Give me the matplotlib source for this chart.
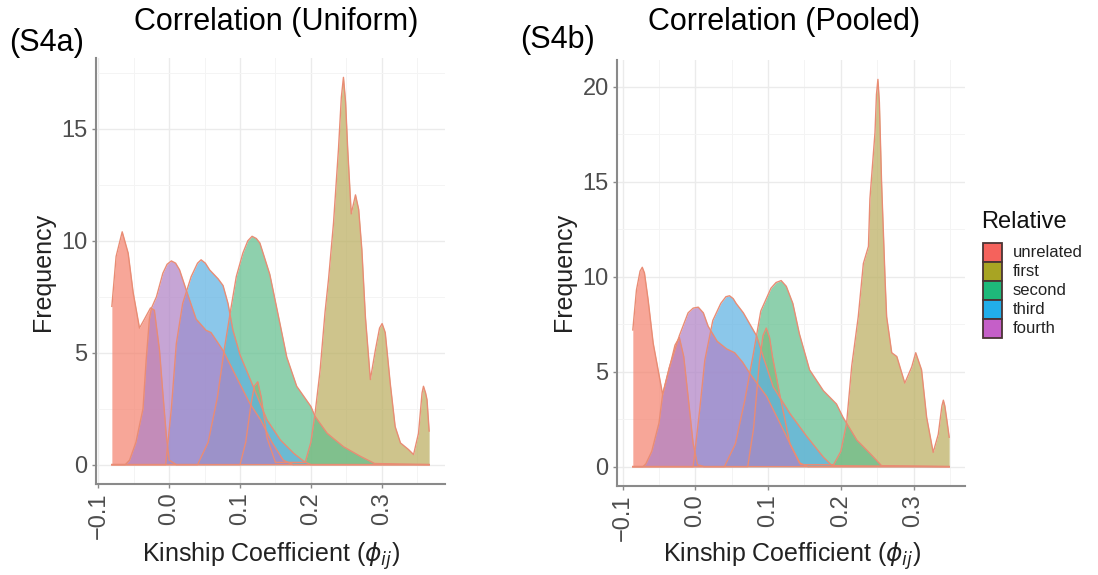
import matplotlib
matplotlib.use("Agg")
import matplotlib.pyplot as plt
from matplotlib.ticker import MultipleLocator
from matplotlib.patches import Rectangle

plt.rcParams['font.family'] = ['Liberation Sans', 'DejaVu Sans']
plt.rcParams['mathtext.fontset'] = 'dejavusans'

# ---------------- data ----------------
relatives = ["unrelated", "first", "second", "third", "fourth"]

# Panel (S4a) Correlation (Uniform)
unrelated_a_x = [-0.081, -0.075, -0.0664, -0.058, -0.051, -0.042, -0.035, -0.0264, -0.021, -0.0137, -0.009, -0.004, 0.0, 0.01, 0.367]
unrelated_a_y = [7.07, 9.3, 10.4, 9.45, 7.7, 6.1, 6.5, 7.0, 6.9, 5.1, 3.2, 1.26, 0.2, 0.0, 0.0]

first_a_x = [-0.081, 0.1, 0.108, 0.115, 0.12, 0.125, 0.13, 0.138, 0.15, 0.192, 0.2, 0.206, 0.213, 0.22, 0.225, 0.232,
             0.239, 0.243, 0.246, 0.249, 0.252, 0.257, 0.263, 0.2675, 0.272, 0.277, 0.284, 0.291, 0.297, 0.3006, 0.305, 0.312,
             0.319, 0.3265, 0.338, 0.345, 0.352, 0.357, 0.359, 0.362, 0.364, 0.367]
first_a_y = [0, 0, 1.0, 2.6, 3.5, 3.7, 3.0, 1.2, 0.1, 0.1, 1.0, 2.3, 4.2, 6.8, 8.3, 10.8,
             14.1, 16.4, 17.3, 16.2, 14.1, 11.2, 12.05, 11.4, 9.6, 6.6, 3.8, 5.1, 6.1, 6.3, 5.9, 3.65,
             1.7, 0.97, 0.67, 0.45, 1.4, 3.2, 3.5, 3.2, 2.9, 1.5]

second_a_x = [-0.081, 0.04, 0.055, 0.068, 0.078, 0.0876, 0.0947, 0.104, 0.111, 0.117, 0.123, 0.128, 0.142, 0.157, 0.166,
              0.18, 0.2, 0.206, 0.223, 0.246, 0.27, 0.29, 0.367]
second_a_y = [0, 0, 1.0, 3.0, 5.2, 7.07, 8.4, 9.45, 10.0, 10.2, 10.1, 9.9, 8.5, 6.2, 4.8,
              3.5, 2.6, 2.15, 1.4, 0.8, 0.37, 0.05, 0]

third_a_x = [-0.081, -0.005, 0.003, 0.01, 0.019, 0.031, 0.04, 0.045, 0.051, 0.057, 0.069, 0.076, 0.083, 0.09, 0.1,
             0.1145, 0.138, 0.157, 0.176, 0.19, 0.2, 0.367]
third_a_y = [0, 0, 2.5, 5.4, 7.2, 8.4, 9.0, 9.15, 9.0, 8.7, 8.3, 8.0, 7.2, 6.0, 4.9,
             3.8, 2.0, 1.1, 0.5, 0.15, 0, 0]

fourth_a_x = [-0.081, -0.062, -0.056, -0.047, -0.037, -0.0325, -0.028, -0.025, -0.018, -0.009, -0.003, 0.003, 0.009, 0.0146,
              0.024, 0.038, 0.052, 0.059, 0.076, 0.095, 0.1135, 0.129, 0.145, 0.161, 0.175, 0.367]
fourth_a_y = [0, 0, 0.2, 1.0, 2.5, 4.7, 6.5, 7.0, 7.5, 8.55, 8.95, 9.1, 9.0, 8.7,
              7.8, 6.5, 6.0, 5.9, 5.1, 3.9, 2.75, 2.0, 1.0, 0.2, 0, 0]

# Panel (S4b) Correlation (Pooled)
unrelated_b_x = [-0.086, -0.081, -0.076, -0.073, -0.07, -0.065, -0.058, -0.045, -0.035, -0.028, -0.022, -0.016, -0.01, -0.003, 0.003, 0.012, 0.349]
unrelated_b_y = [7.2, 9.3, 10.3, 10.5, 10.2, 8.8, 6.5, 3.8, 5.3, 6.4, 6.8, 5.8, 3.7, 1.2, 0.1, 0, 0]

first_b_x = [-0.086, 0.072, 0.08, 0.088, 0.093, 0.0975, 0.102, 0.106, 0.116, 0.13, 0.145, 0.19, 0.2, 0.208, 0.215, 0.224,
             0.231, 0.238, 0.24, 0.247, 0.249, 0.251, 0.253, 0.256, 0.261, 0.263, 0.27, 0.277, 0.288, 0.2975, 0.303,
             0.311, 0.318, 0.327, 0.334, 0.339, 0.341, 0.343, 0.346, 0.349]
first_b_y = [0, 0, 2.0, 5.5, 6.9, 7.3, 6.8, 5.8, 3.8, 1.2, 0.1, 0.1, 0.8, 2.3, 5.3, 7.9,
             10.7, 11.6, 14.1, 17.6, 19.6, 20.4, 19.2, 15.0, 9.7, 7.9, 6.0, 5.8, 4.4, 5.25, 6.0,
             5.1, 2.6, 0.75, 1.7, 3.2, 3.5, 3.2, 2.4, 1.55]

second_b_x = [-0.086, 0.04, 0.055, 0.068, 0.08, 0.09, 0.104, 0.111, 0.118, 0.125, 0.134, 0.143, 0.157, 0.176, 0.194,
              0.203, 0.222, 0.24, 0.256, 0.349]
second_b_y = [0, 0, 1.2, 3.5, 6.0, 8.2, 9.4, 9.7, 9.8, 9.5, 8.6, 7.0, 5.1, 4.0, 3.3,
              2.6, 1.4, 0.7, 0.05, 0]

third_b_x = [-0.086, -0.003, 0.006, 0.013, 0.024, 0.035, 0.042, 0.047, 0.052, 0.056, 0.066, 0.075, 0.084, 0.095, 0.107,
             0.13, 0.153, 0.176, 0.188, 0.349]
third_b_y = [0, 0, 3.0, 5.6, 7.7, 8.6, 8.95, 9.0, 8.85, 8.6, 8.1, 7.5, 6.9, 5.6, 4.2,
             2.8, 1.6, 0.5, 0.05, 0]

fourth_b_x = [-0.086, -0.072, -0.068, -0.06, -0.05, -0.045, -0.036, -0.022, -0.01, -0.003, 0.004, 0.011, 0.0175, 0.03,
              0.043, 0.054, 0.065, 0.075, 0.098, 0.12, 0.143, 0.155, 0.349]
fourth_b_y = [0, 0, 0.15, 0.8, 2.3, 3.8, 5.2, 6.9, 8.1, 8.35, 8.4, 8.1, 7.4, 6.6,
              6.2, 6.0, 5.5, 4.9, 3.7, 2.0, 0.2, 0, 0]

x_ticks = [-0.1, 0.0, 0.1, 0.2, 0.3]
y_ticks_a = [0, 5, 10, 15]
y_ticks_b = [0, 5, 10, 15, 20]

# ---------------- style ----------------
fill_colors = ["#F48470", "#BBAE60", "#62BF8E", "#5FB2E3", "#B083C6"]
legend_colors = ["#F5625C", "#A8A423", "#1EB97A", "#22AEEA", "#C55FC8"]
fill_alpha = 0.72
outline = "#E98C74"

fig = plt.figure(figsize=(10.98, 5.75), dpi=100)
W, H = 1098, 575


def fx(px):
    return px / W


def fy(py):
    return 1 - py / H


def draw_panel(rect, series, yticks, xlim_data, ymax):
    ax = fig.add_axes(rect)
    for (xs, ys), c in zip(series, fill_colors):
        ax.fill_between(xs, ys, 0, color=c, alpha=fill_alpha, lw=0)
        ax.plot(xs, ys, color=outline, lw=1.0, solid_joinstyle='round')
    lo, hi = xlim_data
    r = hi - lo
    ax.set_xlim(lo - 0.05 * r, hi + 0.05 * r)
    ax.set_ylim(-0.05 * ymax, ymax * 1.05)
    ax.set_xticks(x_ticks)
    ax.set_xticklabels([f"{t:.1f}".replace("-", "\u2212") for t in x_ticks], rotation=90)
    ax.set_yticks(yticks)
    ax.set_yticklabels([str(t) for t in yticks])
    ax.xaxis.set_minor_locator(MultipleLocator(0.05))
    ax.yaxis.set_minor_locator(MultipleLocator(2.5))
    ax.grid(which='major', color='#ebebeb', lw=1.0)
    ax.grid(which='minor', color='#f4f4f4', lw=0.7)
    ax.set_axisbelow(True)
    for s in ['top', 'right']:
        ax.spines[s].set_visible(False)
    for s in ['left', 'bottom']:
        ax.spines[s].set_color('#8a8a8a')
        ax.spines[s].set_linewidth(1.5)
    ax.tick_params(which='major', length=3, width=1, color='#8a8a8a',
                   labelsize=17, labelcolor='#4d4d4d', pad=3)
    ax.tick_params(which='minor', length=0)
    return ax


series_a = [(unrelated_a_x, unrelated_a_y), (first_a_x, first_a_y), (second_a_x, second_a_y),
            (third_a_x, third_a_y), (fourth_a_x, fourth_a_y)]
series_b = [(unrelated_b_x, unrelated_b_y), (first_b_x, first_b_y), (second_b_x, second_b_y),
            (third_b_x, third_b_y), (fourth_b_x, fourth_b_y)]

ymax_a = max(max(s[1]) for s in series_a)
ymax_b = max(max(s[1]) for s in series_b)

ax_a = draw_panel([fx(96), fy(484), fx(445) - fx(96), fy(58) - fy(484)], series_a, y_ticks_a,
                  (min(unrelated_a_x), max(first_a_x)), ymax_a)
ax_b = draw_panel([fx(617), fy(486), fx(965) - fx(617), fy(60) - fy(486)], series_b, y_ticks_b,
                  (min(unrelated_b_x), max(first_b_x)), ymax_b)

# titles and labels
fig.text(fx(276), fy(22), "Correlation (Uniform)", fontsize=22, ha='center', va='center')
fig.text(fx(784), fy(22), "Correlation (Pooled)", fontsize=22, ha='center', va='center')
fig.text(fx(47), fy(43), "(S4a)", fontsize=22, ha='center', va='center')
fig.text(fx(557), fy(40), "(S4b)", fontsize=22, ha='center', va='center')

xlabel = r"Kinship Coefficient ($\phi_{ij}$)"
fig.text(fx(271), fy(556), xlabel, fontsize=18, ha='center', va='center', color='#222222')
fig.text(fx(792), fy(556), xlabel, fontsize=18, ha='center', va='center', color='#222222')
fig.text(fx(43), fy(272), "Frequency", fontsize=18, rotation=90, ha='center', va='center', color='#222222')
fig.text(fx(564), fy(272), "Frequency", fontsize=18, rotation=90, ha='center', va='center', color='#222222')

# legend (drawn as key boxes + labels)
fig.text(fx(981), fy(222), "Relative", fontsize=17, ha='left', va='center', color='#111111')
key_top, key_h, key_left, key_w = 243, 19, 983, 19
for i, (name, c) in enumerate(zip(relatives, legend_colors)):
    top = key_top + i * key_h
    fig.add_artist(Rectangle((fx(key_left), fy(top + key_h)), key_w / W, key_h / H,
                             transform=fig.transFigure, facecolor=c, edgecolor='#4a3434', lw=1.3))
    fig.text(fx(1013), fy(top + key_h / 2), name, fontsize=12, ha='left', va='center', color='#222222')

fig.savefig("out.png", dpi=100)
